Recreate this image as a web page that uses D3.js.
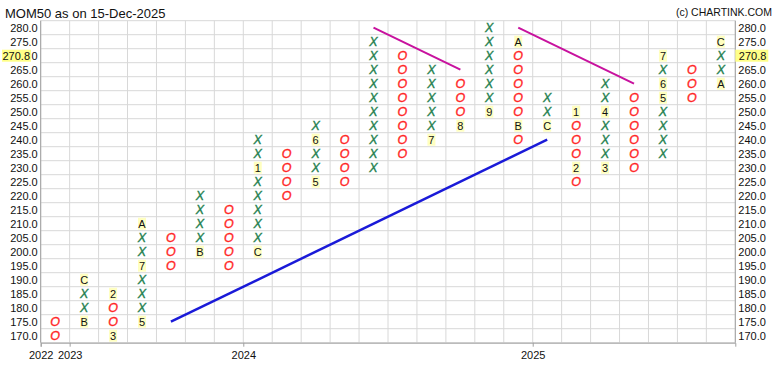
<!DOCTYPE html>
<html><head><meta charset="utf-8">
<script src="https://cdn.jsdelivr.net/npm/d3@7"></script>
<style>
body{margin:0;background:#fff;}
svg{display:block;font-family:"Liberation Sans",Arial,sans-serif;}
</style></head>
<body><svg id="c" width="778" height="372"></svg>
<script>
// ---- data ----
const title = "MOM50 as on 15-Dec-2025";
const credit = "(c) CHARTINK.COM";
const boxValues = d3.range(170, 281, 5);            // 170 ... 280
const colTypes = ["O","X","O","X","O","X","O","X","O","X","O","X","O","X","O","X","O","X","O","X","O","X","O","X"];
const colLow   = [170,175,170,175,195,200,195,200,220,225,225,230,235,240,245,250,240,245,225,230,230,235,255,260];
const colHigh  = [175,190,185,210,205,220,215,240,235,245,240,275,270,265,260,280,275,255,250,260,255,270,265,275];
const markCols   = [1,1,2,2,3,3,3,5,7,7,9,9,13,14,15,16,16,17,18,18,19,19,21,21,21,23,23];
const markValues = [175,190,185,170,175,195,210,200,200,230,225,240,240,245,250,275,245,245,250,230,230,250,255,260,270,260,275];
const markLabels = ["B","C","2","3","5","7","A","B","C","1","5","6","7","8","9","A","B","C","1","2","3","4","5","6","7","A","C"];
const yearLabels = ["2022","2023","2024","2025"];
const yearCols   = [0,1,7,17];
const supportLine = [[4,175],[17,240]];
const resistLines = [[[11,280],[14,265]], [[16,280],[20,260]]];
const lastPrice = 270.8;

// ---- layout ----
const svg = d3.select("#c");
const pL = 40.7, pR = 735.3, pT = 20.7, pB = 342.7;
const nCols = colTypes.length;
const x = d3.scaleLinear().domain([0, nCols]).range([pL, pR]);
const y = d3.scaleLinear().domain([167.5, 282.5]).range([pB, pT]);
const cx = i => x(i + 0.5);

// grid
const g = svg.append("g");
g.selectAll("line.h").data(d3.range(167.5, 283, 5)).join("line")
  .attr("x1", pL).attr("x2", pR).attr("y1", d => y(d)).attr("y2", d => y(d))
  .attr("stroke", "#d8d8d8").attr("stroke-width", 1);
g.selectAll("line.v").data(d3.range(0, nCols + 1)).join("line")
  .attr("y1", pT).attr("y2", pB).attr("x1", d => x(d)).attr("x2", d => x(d))
  .attr("stroke", "#d8d8d8").attr("stroke-width", 1);

// axes
const fmt = d3.format(".1f");
const yl = svg.append("g").attr("transform", `translate(${pL},0)`)
  .call(d3.axisLeft(y).tickValues(boxValues).tickFormat(fmt).tickSize(0).tickPadding(3));
const yr = svg.append("g").attr("transform", `translate(${pR},0)`)
  .call(d3.axisRight(y).tickValues(boxValues).tickFormat(fmt).tickSize(0).tickPadding(3));
const xb = svg.append("g").attr("transform", `translate(0,${pB})`)
  .call(d3.axisBottom(x).tickValues(yearCols).tickFormat((d, i) => yearLabels[i]).tickSize(4).tickPadding(5));
[yl, yr, xb].forEach(a => {
  a.select(".domain").attr("stroke", "#a0a0a0");
  a.selectAll(".tick line").attr("stroke", "#a0a0a0");
  a.selectAll("text").attr("fill", "#111").style("font-size", "11px").style("font-family", '"Liberation Sans",Arial,sans-serif');
});
yl.select(".domain").attr("d", `M0,${pT}V${pB}`);
yr.select(".domain").attr("d", `M0,${pT}V${pB}`);

// marks
const cells = [];
colTypes.forEach((t, i) => {
  for (let v = colLow[i]; v <= colHigh[i]; v += 5) cells.push({col: i, v, t});
});
const markKey = new Set(markCols.map((c, i) => c + "_" + markValues[i]));
svg.append("g").selectAll("text").data(cells.filter(d => !markKey.has(d.col + "_" + d.v))).join("text")
  .attr("x", d => cx(d.col)).attr("y", d => y(d.v)).attr("dy", "0.36em")
  .attr("text-anchor", "middle")
  .style("font-size", "12.5px").style("font-style", "italic")
  .attr("fill", d => d.t === "X" ? "#1f7f4f" : "#ff2626")
  .attr("stroke", d => d.t === "X" ? "#1f7f4f" : "#ff2626").attr("stroke-width", 0.35)
  .text(d => d.t);

// month labels
const mg = svg.append("g").selectAll("g").data(markLabels.map((l, i) => ({l, c: markCols[i], v: markValues[i]}))).join("g")
  .attr("transform", d => `translate(${cx(d.c)},${y(d.v)})`);
mg.append("rect").attr("x", -4).attr("y", -6).attr("width", 8).attr("height", 12).attr("fill", "#ffffc0");
mg.append("text").attr("text-anchor", "middle").attr("dy", "0.36em")
  .style("font-size", "11px").attr("fill", "#111").text(d => d.l);

// trend lines
const line = d3.line().x(d => cx(d[0])).y(d => y(d[1]));
svg.append("path").attr("d", line(supportLine)).attr("stroke", "#1a1ad8").attr("stroke-width", 2.5).attr("fill", "none");
resistLines.forEach(r => svg.append("path").attr("d", line(r)).attr("stroke", "#c8129e").attr("stroke-width", 2).attr("fill", "none"));

// last price highlight
const py = y(Math.floor(lastPrice / 5) * 5);
const lp = svg.append("g");
lp.append("rect").attr("x", 2).attr("y", py - 6).attr("width", 29).attr("height", 12).attr("fill", "#ffff88");
lp.append("text").attr("x", 30).attr("y", py).attr("dy", "0.36em").attr("text-anchor", "end")
  .style("font-size", "11px").attr("fill", "#111").text(fmt(lastPrice));
lp.append("rect").attr("x", pR).attr("y", py - 6).attr("width", 33).attr("height", 12).attr("fill", "#ffff88");
lp.append("text").attr("x", pR + 3.5).attr("y", py).attr("dy", "0.36em")
  .style("font-size", "11px").attr("fill", "#111").text(fmt(lastPrice));

// titles
svg.append("text").attr("x", 5).attr("y", 18).style("font-size", "13px").attr("fill", "#111").text(title);
svg.append("text").attr("x", 772).attr("y", 15.5).attr("text-anchor", "end").style("font-size", "10.5px").attr("fill", "#111").text(credit);
</script></body></html>
